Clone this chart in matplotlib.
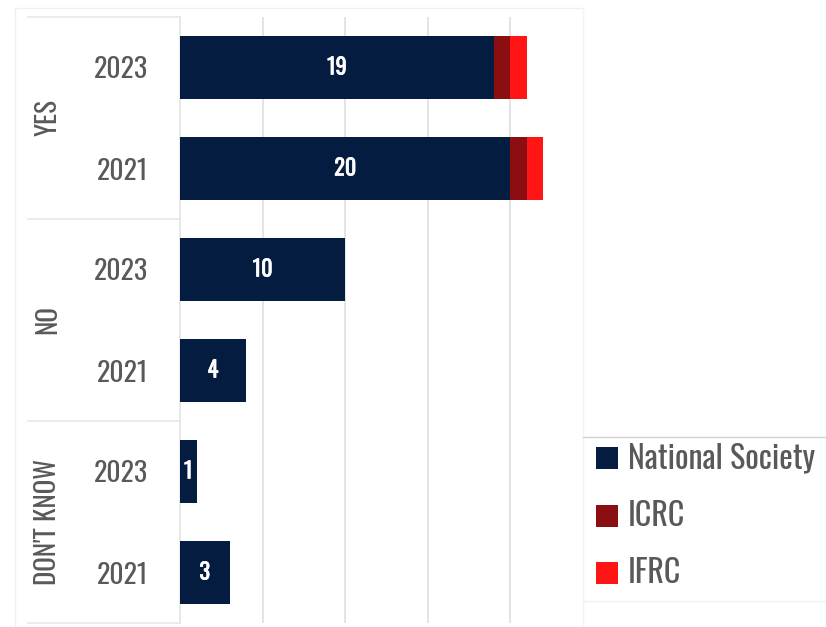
import matplotlib
matplotlib.use("Agg")
import matplotlib.pyplot as plt
from matplotlib.patches import Rectangle
from matplotlib.lines import Line2D
import matplotlib.transforms as mtransforms
import matplotlib.patheffects as pe

groups = ["YES", "NO", "DON'T KNOW"]
years = ["2023", "2021", "2023", "2021", "2023", "2021"]
series_names = ["National Society", "ICRC", "IFRC"]
national_society = [19, 20, 10, 4, 1, 3]
icrc = [1, 1, 0, 0, 0, 0]
ifrc = [1, 1, 0, 0, 0, 0]
colors = ["#031c40", "#8a0e12", "#ff1515"]

FONT = ["Oswald", "Roboto Condensed", "DejaVu Sans"]
plt.rcParams['font.family'] = FONT
GRAY = "#595959"

W, H = 826, 627
fig = plt.figure(figsize=(W / 100, H / 100), dpi=100)
ax = fig.add_axes([180 / W, 1 - 623 / H, (583 - 180) / W, (623 - 17) / H])

ypos = list(range(len(years)))
series = [national_society, icrc, ifrc]
left = [0] * len(years)
for vals, col, name in zip(series, colors, series_names):
    ax.barh(ypos, vals, left=left, height=0.63, color=col, label=name, zorder=3)
    left = [l + v for l, v in zip(left, vals)]

for y, v in zip(ypos, national_society):
    ax.text(v / 2, y, str(v), ha="center", va="center", color="white",
            fontsize=16, fontweight="bold", zorder=4,
            path_effects=[pe.withStroke(linewidth=0.5, foreground="white")])

ax.set_xlim(0, 24.4)
ax.set_ylim(5.5, -0.5)
ax.set_xticks([0, 5, 10, 15, 20])
ax.xaxis.grid(True, color="#e2e2e2", linewidth=1.3, zorder=0)
ax.tick_params(axis="x", length=0, labelbottom=False)
ax.set_yticks(ypos)
ax.set_yticklabels(years, fontsize=20, color=GRAY)
ax.tick_params(axis="y", length=0, pad=23)
for s in ["top", "right", "bottom"]:
    ax.spines[s].set_visible(False)
ax.spines["left"].set_color("#e6e6e6")
ax.spines["left"].set_linewidth(1.2)

# group labels
trans = mtransforms.blended_transform_factory(fig.transFigure, ax.transData)
for i, g in enumerate(groups):
    ax.text(48 / W, 2 * i + 0.5, g, transform=trans, rotation=90, ha="center",
            va="center", fontsize=19.5, color=GRAY)
for yy in [-0.5, 1.5, 3.5, 5.5]:
    ax.add_line(Line2D([28 / W, 180 / W], [yy, yy], transform=trans,
                       color="#e8e8e8", linewidth=1.2, clip_on=False))

# outer faint frame
fig.add_artist(Line2D([15 / W, 583 / W], [1 - 8 / H, 1 - 8 / H], color="#f0f0f0", linewidth=1))
fig.add_artist(Line2D([15 / W, 15 / W], [1 - 8 / H, 0], color="#f0f0f0", linewidth=1))
fig.add_artist(Line2D([583 / W, 583 / W], [1 - 8 / H, 0], color="#f4f4f4", linewidth=1))

# legend box
fig.add_artist(Line2D([583 / W, 1], [1 - 437 / H, 1 - 437 / H], color="#d0d0d0", linewidth=1))
fig.add_artist(Line2D([583 / W, 1], [1 - 601 / H, 1 - 601 / H], color="#f0f0f0", linewidth=1))
leg_y = [458, 516, 573]
for name, col, yc in zip(series_names, colors, leg_y):
    fig.add_artist(Rectangle((596 / W, 1 - (yc + 11) / H), 22 / W, 22 / H,
                             facecolor=col, edgecolor="none", transform=fig.transFigure))
    fig.text(628 / W, 1 - yc / H, name, ha="left", va="center",
             fontsize=23, color=GRAY)

fig.savefig("out.png", dpi=100)
